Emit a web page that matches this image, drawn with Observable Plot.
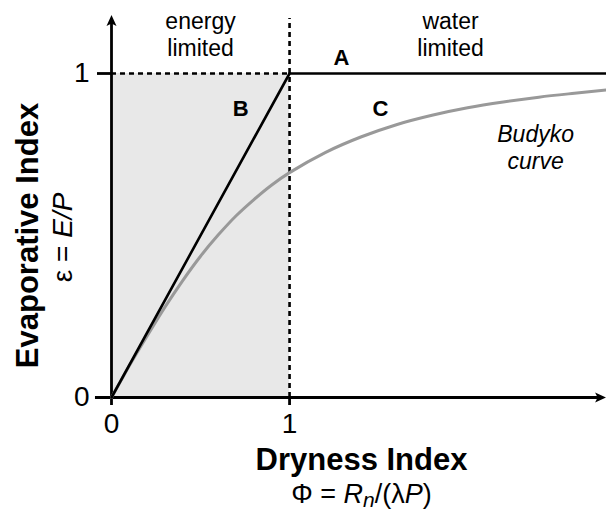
<!DOCTYPE html>
<html>
<head>
<meta charset="utf-8">
<script src="https://cdn.jsdelivr.net/npm/d3@7"></script>
<script src="https://cdn.jsdelivr.net/npm/@observablehq/plot@0.6"></script>
<style>
  html, body { margin: 0; padding: 0; background: #fff; }
  #chart { width: 606px; height: 512px; overflow: hidden; }
</style>
</head>
<body>
<div id="chart"></div>
<script>
// Budyko curve: dryness index Φ vs evaporative index ε
const budykoPhi = [0, 0.05, 0.1, 0.2, 0.3, 0.4, 0.5, 0.6, 0.7, 0.8, 0.9, 1.0, 1.2, 1.4, 1.6, 1.8, 2.0, 2.2, 2.4, 2.6, 2.8];
const budykoEps = [0, 0.049, 0.098, 0.19, 0.279, 0.361, 0.436, 0.502, 0.561, 0.611, 0.656, 0.694, 0.756, 0.804, 0.842, 0.871, 0.894, 0.912, 0.927, 0.939, 0.95];

// Energy limit (B) and water limit (A)
const energyLimitX = [0, 1];
const energyLimitY = [0, 1];
const waterLimitX = [1, 2.8];
const waterLimitY = [1, 1];

// Tick values
const xTicks = [0, 1];
const yTicks = [0, 1];

// Annotation texts
const regionLabels = ["energy\nlimited", "water\nlimited"];
const regionX = [0.5, 1.904];
const regionY = [1.122, 1.122];

const letterLabels = ["A", "B", "C"];
const letterX = [1.292, 0.725, 1.511];
const letterY = [1.049, 0.892, 0.892];

const curveLabel = "Budyko\ncurve";
const curveLabelX = 2.382;
const curveLabelY = 0.773;

const xTitle = "Dryness Index";
const xSubtitle = "Φ = Rn/(λP)";
const yTitle = "Evaporative Index";
const ySubtitle = "ε = E/P";

const budyko = budykoPhi.map((x, i) => ({x, y: budykoEps[i]}));
const energyLine = energyLimitX.map((x, i) => ({x, y: energyLimitY[i]}));
const waterLine = waterLimitX.map((x, i) => ({x, y: waterLimitY[i]}));

const arrowSymbol = {
  draw(context, size) {
    const r = Math.sqrt(size / Math.PI);
    context.moveTo(0, -r * 1.7);
    context.lineTo(r, r * 0.5);
    context.lineTo(0, 0);
    context.lineTo(-r, r * 0.5);
    context.closePath();
  }
};

const FONT = "'Liberation Sans', Arial, Helvetica, sans-serif";

const plot = Plot.plot({
  width: 606,
  height: 512,
  marginLeft: 111,
  marginRight: 0,
  marginTop: 73,
  marginBottom: 115,
  style: {fontFamily: FONT, background: "white", color: "black"},
  x: {domain: [0, 2.78]},
  y: {domain: [0, 1]},
  marks: [
    // shaded energy-limited box
    Plot.rect([{x1: 0, x2: 1, y1: 0, y2: 1}], {x1: "x1", x2: "x2", y1: "y1", y2: "y2", fill: "#e8e8e8"}),
    // dashed guides
    Plot.ruleY([1], {x1: 0, x2: 1, stroke: "black", strokeWidth: 2.6, strokeDasharray: "5,4"}),
    Plot.ruleX([1], {y1: 0, y2: 1.17, stroke: "black", strokeWidth: 2.6, strokeDasharray: "5,4"}),
    // axes lines
    Plot.ruleX([0], {y1: 0, y2: 1.16, stroke: "black", strokeWidth: 2.8}),
    Plot.ruleY([0], {x1: -0.09, x2: 2.74, stroke: "black", strokeWidth: 2.8}),
    Plot.dot([{x: 0, y: 1.154}], {x: "x", y: "y", symbol: arrowSymbol, r: 5, fill: "black", stroke: null}),
    Plot.dot([{x: 2.73, y: 0}], {x: "x", y: "y", symbol: arrowSymbol, r: 5, fill: "black", stroke: null, rotate: 90}),
    // ticks
    Plot.axisX({ticks: xTicks, tickSize: 8, tickPadding: 8, fontSize: 28, tickFormat: d => String(d), label: null, strokeWidth: 2.8}),
    Plot.axisY({ticks: yTicks, tickSize: 14, tickPadding: 8, fontSize: 28, tickFormat: d => String(d), label: null, strokeWidth: 2.8}),
    // Budyko curve
    Plot.line(budyko, {x: "x", y: "y", stroke: "#999999", strokeWidth: 3, curve: "catmull-rom"}),
    // limits
    Plot.line(energyLine, {x: "x", y: "y", stroke: "black", strokeWidth: 2.6}),
    Plot.line(waterLine, {x: "x", y: "y", stroke: "black", strokeWidth: 2.6}),
    // annotations
    Plot.text(regionLabels, {x: (d, i) => regionX[i], y: (d, i) => regionY[i], text: d => d, fontSize: 23, lineHeight: 1.17, fill: "black"}),
    Plot.text(letterLabels, {x: (d, i) => letterX[i], y: (d, i) => letterY[i], text: d => d, fontSize: 22, fontWeight: "bold", fill: "black"}),
    Plot.text([curveLabel], {x: curveLabelX, y: curveLabelY, text: d => d, fontSize: 23, fontStyle: "italic", lineHeight: 1.17, fill: "black"}),
    Plot.text([xTitle], {x: 1.404, y: -0.194, text: d => d, fontSize: 31, fontWeight: "bold", fill: "black"}),
    Plot.text([xSubtitle], {x: 1.404, y: -0.300, text: d => d, fontSize: 27, fill: "black"}),
    Plot.text([yTitle], {x: -0.466, y: 0.5, text: d => d, fontSize: 31, fontWeight: "bold", rotate: -90, fill: "black"}),
    Plot.text([ySubtitle], {x: -0.275, y: 0.494, text: d => d, fontSize: 28, rotate: -90, fill: "black"})
  ]
});

// rich formatting for the formula subtitles
d3.select(plot).selectAll("text").each(function() {
  const t = d3.select(this);
  const content = this.textContent;
  if (content === xSubtitle) {
    t.text(null);
    t.append("tspan").text("Φ = ");
    t.append("tspan").attr("font-style", "italic").text("R");
    t.append("tspan").attr("font-style", "italic").attr("font-size", 21).attr("dy", 4).text("n");
    t.append("tspan").attr("dy", -4).text("/(λ");
    t.append("tspan").attr("font-style", "italic").text("P");
    t.append("tspan").text(")");
  } else if (content === ySubtitle) {
    t.text(null);
    t.append("tspan").text("ε = ");
    t.append("tspan").attr("font-style", "italic").text("E/P");
  }
});

document.getElementById("chart").appendChild(plot);
</script>
</body>
</html>
